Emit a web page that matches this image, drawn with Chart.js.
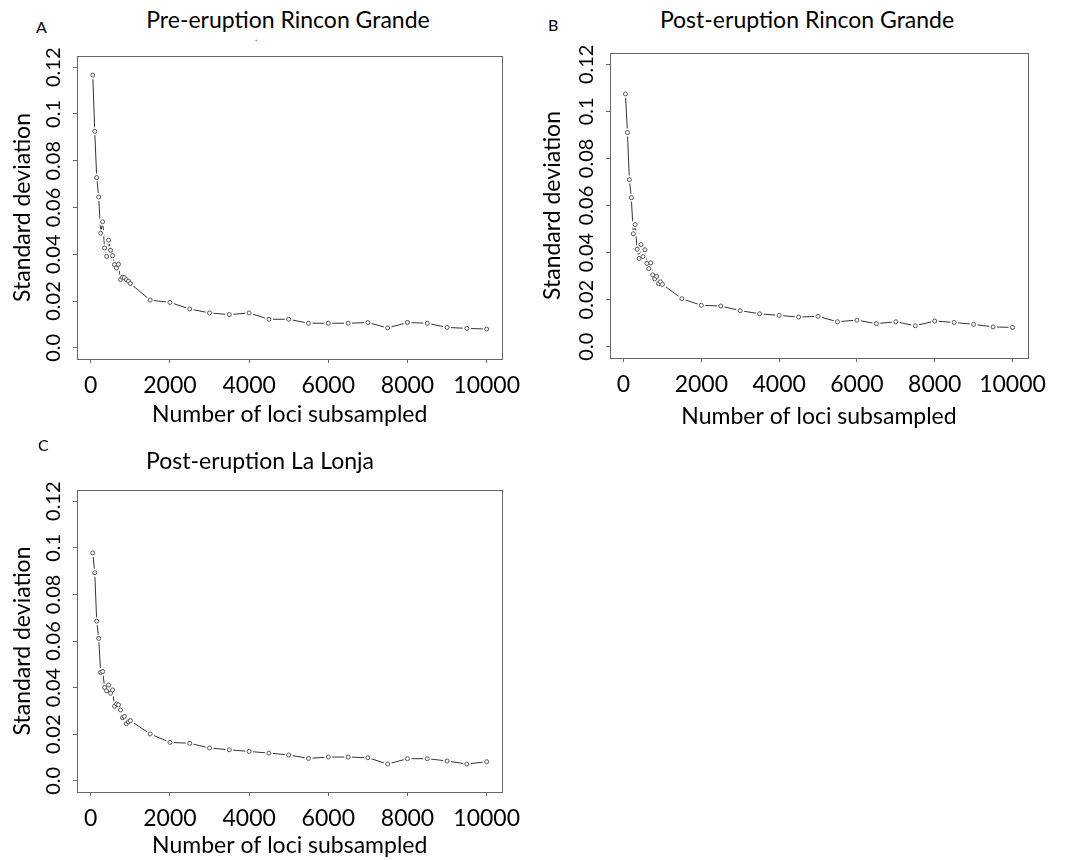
<!DOCTYPE html>
<html lang="en">
<head>
<meta charset="utf-8" />
<title>Standard deviation vs number of loci subsampled</title>
<style>
  * { margin: 0; padding: 0; }
  body {
    width: 1075px;
    height: 860px;
    position: relative;
    overflow: hidden;
    background: white;
    font-family: Lato, sans-serif;
    color: #000;
  }
  canvas { position: absolute; }
  .letter { position: absolute; font-size: 16px; line-height: 16px; }
  .title {
    position: absolute;
    font-size: 23px;
    line-height: 23px;
    white-space: nowrap;
    transform: translateX(-50%);
  }
  .speck { position: absolute; font-size: 10px; line-height: 10px; color: #444; }
</style>
</head>
<body>
  <div class="letter" style="left:36px; top:19px">A</div>
  <div class="title" style="left:288px; top:8px">Pre-eruption Rincon Grande</div>
  <div class="speck" style="left:255px; top:32px">.</div>
  <canvas id="chartA" width="530" height="440" style="left:0; top:0"></canvas>

  <div class="letter" style="left:548px; top:17px">B</div>
  <div class="title" style="left:807px; top:8px">Post-eruption Rincon Grande</div>
  <canvas id="chartB" width="545" height="440" style="left:530px; top:0"></canvas>

  <div class="letter" style="left:38px; top:437px">C</div>
  <div class="title" style="left:260px; top:449px">Post-eruption La Lonja</div>
  <canvas id="chartC" width="530" height="440" style="left:0; top:430px"></canvas>

  <script src="https://cdn.jsdelivr.net/npm/chart.js"></script>
  <script>
    // data block
    const lociSubsampled = [
      50, 100, 150, 200, 250, 300, 350, 400, 450, 500,
      550, 600, 650, 700, 750, 800, 850, 900, 950, 1000,
      1500, 2000, 2500, 3000, 3500, 4000, 4500, 5000, 5500, 6000,
      6500, 7000, 7500, 8000, 8500, 9000, 9500, 10000,
    ];
    const sdPreRincon = [
      0.1166, 0.0926, 0.0728, 0.0645, 0.049, 0.0539, 0.0427, 0.0391, 0.046, 0.0417,
      0.0394, 0.0356, 0.0341, 0.0357, 0.0292, 0.0301, 0.03, 0.0291, 0.0285, 0.0275,
      0.0204, 0.0194, 0.0166, 0.0149, 0.0142, 0.0149, 0.0122, 0.0122, 0.0105, 0.0105,
      0.0105, 0.0108, 0.0085, 0.0108, 0.0105, 0.0087, 0.0083, 0.008,
    ];
    const sdPostRincon = [
      0.1074, 0.091, 0.071, 0.0633, 0.048, 0.0519, 0.0414, 0.0375, 0.0434, 0.0383,
      0.0412, 0.0354, 0.0332, 0.0356, 0.0305, 0.0288, 0.0299, 0.0268, 0.0276, 0.0265,
      0.0204, 0.0176, 0.0173, 0.0153, 0.014, 0.0133, 0.0126, 0.0129, 0.0106, 0.0113,
      0.0098, 0.0106, 0.0089, 0.0109, 0.0103, 0.0095, 0.0084, 0.0082,
    ];
    const sdPostLonja = [
      0.0978, 0.0893, 0.0685, 0.0611, 0.0465, 0.0469, 0.04, 0.0386, 0.0411, 0.0376,
      0.039, 0.032, 0.033, 0.0326, 0.0304, 0.0271, 0.0276, 0.0245, 0.0253, 0.0258,
      0.0201, 0.0165, 0.0161, 0.0141, 0.0133, 0.0126, 0.0119, 0.0111, 0.0096, 0.0102,
      0.0102, 0.0099, 0.0072, 0.0095, 0.0095, 0.0085, 0.0072, 0.0082,
    ];
    const xTicks = [0, 2000, 4000, 6000, 8000, 10000];
    const yTicks = [0, 0.02, 0.04, 0.06, 0.08, 0.1, 0.12];
    const yTickLabels = ["0.0", "0.02", "0.04", "0.06", "0.08", "0.1", "0.12"];

    const FONT = "Lato, sans-serif";
    const INK = "#000";

    // box around the plot region, like R's box()
    const frame = {
      id: "frame",
      afterDatasetsDraw(chart) {
        const { ctx, chartArea: a } = chart;
        ctx.save();
        ctx.strokeStyle = "#666";
        ctx.lineWidth = 1;
        ctx.strokeRect(
          Math.round(a.left) + 0.5,
          Math.round(a.top) + 0.5,
          Math.round(a.right - a.left),
          Math.round(a.bottom - a.top)
        );
        ctx.restore();
      },
    };

    // vertical y tick labels (R default las=0)
    const yLabels = {
      id: "yLabels",
      afterDraw(chart) {
        const { ctx, chartArea, scales: { y } } = chart;
        ctx.save();
        ctx.fillStyle = INK;
        ctx.font = "20px " + FONT;
        ctx.textAlign = "center";
        ctx.textBaseline = "middle";
        yTicks.forEach((v, i) => {
          ctx.save();
          ctx.translate(chartArea.left - 23, y.getPixelForValue(v));
          ctx.rotate(-Math.PI / 2);
          ctx.fillText(yTickLabels[i], 0, 0);
          ctx.restore();
        });
        ctx.restore();
      },
    };

    function makeChart(id, values, box) {
      const points = lociSubsampled.map((x, i) => ({ x: x, y: values[i] }));
      return new Chart(document.getElementById(id), {
        type: "line",
        data: {
          datasets: [
            {
              // open circles
              data: points,
              showLine: false,
              pointRadius: 2,
              pointBackgroundColor: "#fff",
              pointBorderColor: "#555",
              pointBorderWidth: 1,
            },
            {
              // connecting line, broken around points (type = "b")
              data: points,
              borderColor: "#333",
              borderWidth: 1,
              tension: 0,
              pointRadius: 4,
              pointBackgroundColor: "#fff",
              pointBorderColor: "#fff",
              pointBorderWidth: 0,
            },
          ],
        },
        options: {
          responsive: false,
          animation: false,
          events: [],
          layout: {
            padding: { left: 0, top: box.top, right: box.right, bottom: 0 },
          },
          plugins: {
            legend: { display: false },
            tooltip: { enabled: false },
          },
          scales: {
            x: {
              type: "linear",
              min: -348,
              max: 10398,
              afterBuildTicks: (s) => {
                s.ticks = xTicks.map((v) => ({ value: v }));
              },
              afterFit: (s) => {
                s.height = box.xh;
              },
              grid: { drawOnChartArea: false, tickLength: 4, color: "#666" },
              border: { display: false },
              ticks: {
                font: { family: FONT, size: 23 },
                color: INK,
                padding: 9,
                maxRotation: 0,
                callback: (v) => String(v),
              },
              title: {
                display: true,
                text: "Number of loci subsampled",
                font: { family: FONT, size: 23 },
                color: INK,
                padding: { top: 0, bottom: box.xtp },
              },
            },
            y: {
              min: -0.0048,
              max: 0.1248,
              afterBuildTicks: (s) => {
                s.ticks = yTicks.map((v) => ({ value: v }));
              },
              afterFit: (s) => {
                s.width = box.left;
              },
              grid: { drawOnChartArea: false, tickLength: 4, color: "#666" },
              border: { display: false },
              ticks: { display: false },
              title: {
                display: true,
                text: "Standard deviation",
                font: { family: FONT, size: 23 },
                color: INK,
                padding: { top: 9, bottom: 0 },
              },
            },
          },
        },
        plugins: [frame, yLabels],
      });
    }

    // init render block
    makeChart("chartA", sdPreRincon, { left: 77, top: 56, right: 27, xh: 81, xtp: 12 });
    makeChart("chartB", sdPostRincon, { left: 80, top: 53, right: 47, xh: 82, xtp: 10 });
    makeChart("chartC", sdPostLonja, { left: 77, top: 60, right: 27, xh: 78, xtp: 11 });
  </script>
</body>
</html>
